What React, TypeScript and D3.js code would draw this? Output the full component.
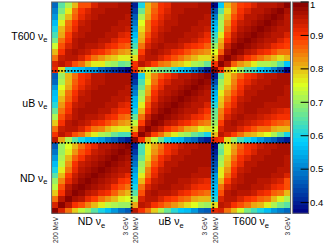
import React from 'react';
import * as d3 from 'd3';

// ---------- data ----------
const detectors = ['ND', 'uB', 'T600'];
const nBins = 12;

// correlation blocks, rows = row-detector energy bin (0 = 200 MeV ... 11 = 3 GeV), cols = column-detector bin
const ND_ND = [
  [1.00,0.93,0.85,0.79,0.73,0.70,0.65,0.60,0.57,0.53,0.49,0.46],
  [0.93,1.00,0.95,0.91,0.88,0.84,0.80,0.77,0.73,0.71,0.70,0.70],
  [0.85,0.95,1.00,0.97,0.95,0.92,0.89,0.86,0.83,0.80,0.77,0.75],
  [0.79,0.91,0.97,1.00,0.98,0.96,0.94,0.92,0.90,0.87,0.83,0.80],
  [0.73,0.88,0.95,0.98,1.00,0.98,0.97,0.96,0.94,0.91,0.88,0.86],
  [0.70,0.84,0.92,0.96,0.98,1.00,0.98,0.97,0.96,0.94,0.91,0.89],
  [0.65,0.80,0.89,0.94,0.97,0.98,1.00,0.98,0.97,0.96,0.94,0.92],
  [0.60,0.77,0.86,0.92,0.96,0.97,0.98,1.00,0.98,0.97,0.96,0.95],
  [0.57,0.73,0.83,0.90,0.94,0.96,0.97,0.98,1.00,0.98,0.97,0.96],
  [0.53,0.71,0.80,0.87,0.91,0.94,0.96,0.97,0.98,1.00,0.98,0.97],
  [0.49,0.70,0.77,0.83,0.88,0.91,0.94,0.96,0.97,0.98,1.00,0.98],
  [0.46,0.70,0.75,0.80,0.86,0.89,0.92,0.95,0.96,0.97,0.98,1.00],
];
const UB_UB = [
  [1.00,0.90,0.80,0.73,0.66,0.60,0.57,0.55,0.50,0.47,0.42,0.40],
  [0.90,1.00,0.95,0.89,0.85,0.80,0.76,0.72,0.70,0.66,0.64,0.60],
  [0.80,0.95,1.00,0.97,0.94,0.91,0.88,0.85,0.82,0.80,0.77,0.78],
  [0.73,0.89,0.97,1.00,0.98,0.96,0.94,0.92,0.90,0.88,0.85,0.84],
  [0.66,0.85,0.94,0.98,1.00,0.98,0.97,0.96,0.94,0.92,0.90,0.88],
  [0.60,0.80,0.91,0.96,0.98,1.00,0.98,0.97,0.96,0.95,0.93,0.91],
  [0.57,0.76,0.88,0.94,0.97,0.98,1.00,0.98,0.97,0.96,0.95,0.93],
  [0.55,0.72,0.85,0.92,0.96,0.97,0.98,1.00,0.98,0.97,0.96,0.95],
  [0.50,0.70,0.82,0.90,0.94,0.96,0.97,0.98,1.00,0.98,0.97,0.96],
  [0.47,0.66,0.80,0.88,0.92,0.95,0.96,0.97,0.98,1.00,0.98,0.97],
  [0.42,0.64,0.77,0.85,0.90,0.93,0.95,0.96,0.97,0.98,1.00,0.98],
  [0.40,0.60,0.78,0.84,0.88,0.91,0.93,0.95,0.96,0.97,0.98,1.00],
];
const T600_T600 = [
  [1.00,0.90,0.80,0.75,0.70,0.65,0.63,0.58,0.55,0.50,0.45,0.38],
  [0.90,1.00,0.95,0.87,0.83,0.80,0.76,0.72,0.71,0.70,0.65,0.58],
  [0.80,0.95,1.00,0.97,0.94,0.91,0.88,0.85,0.83,0.80,0.78,0.80],
  [0.75,0.87,0.97,1.00,0.98,0.96,0.94,0.92,0.90,0.88,0.86,0.86],
  [0.70,0.83,0.94,0.98,1.00,0.98,0.97,0.95,0.94,0.92,0.90,0.89],
  [0.65,0.80,0.91,0.96,0.98,1.00,0.98,0.97,0.96,0.95,0.93,0.91],
  [0.63,0.76,0.88,0.94,0.97,0.98,1.00,0.98,0.97,0.96,0.95,0.93],
  [0.58,0.72,0.85,0.92,0.95,0.97,0.98,1.00,0.98,0.97,0.96,0.95],
  [0.55,0.71,0.83,0.90,0.94,0.96,0.97,0.98,1.00,0.98,0.97,0.96],
  [0.50,0.70,0.80,0.88,0.92,0.95,0.96,0.97,0.98,1.00,0.98,0.96],
  [0.45,0.65,0.78,0.86,0.90,0.93,0.95,0.96,0.97,0.98,1.00,0.97],
  [0.38,0.58,0.80,0.86,0.89,0.91,0.93,0.95,0.96,0.96,0.97,1.00],
];
// off-diagonal: rows = first detector bins, cols = second detector bins
const UB_ND = [
  [0.95,0.82,0.72,0.65,0.60,0.57,0.55,0.52,0.49,0.46,0.42,0.40],
  [0.90,0.96,0.93,0.88,0.85,0.80,0.76,0.72,0.70,0.66,0.64,0.64],
  [0.85,0.94,0.96,0.95,0.93,0.89,0.86,0.84,0.81,0.78,0.76,0.76],
  [0.79,0.91,0.95,0.97,0.96,0.94,0.92,0.90,0.88,0.85,0.83,0.82],
  [0.72,0.88,0.93,0.96,0.97,0.96,0.95,0.94,0.92,0.90,0.87,0.86],
  [0.66,0.85,0.91,0.95,0.97,0.97,0.97,0.96,0.95,0.93,0.91,0.90],
  [0.61,0.83,0.89,0.94,0.96,0.97,0.97,0.97,0.96,0.95,0.93,0.92],
  [0.58,0.80,0.87,0.92,0.95,0.96,0.97,0.97,0.97,0.96,0.95,0.94],
  [0.56,0.78,0.85,0.90,0.94,0.95,0.97,0.97,0.97,0.97,0.96,0.95],
  [0.52,0.75,0.82,0.88,0.92,0.94,0.96,0.97,0.97,0.97,0.97,0.96],
  [0.48,0.72,0.80,0.87,0.90,0.93,0.95,0.96,0.97,0.97,0.97,0.97],
  [0.46,0.70,0.80,0.86,0.90,0.92,0.95,0.96,0.97,0.97,0.97,0.97],
];
const T600_ND = [
  [0.92,0.78,0.62,0.58,0.56,0.54,0.52,0.48,0.45,0.42,0.40,0.38],
  [0.93,0.96,0.93,0.88,0.85,0.81,0.77,0.76,0.72,0.70,0.66,0.68],
  [0.85,0.94,0.96,0.95,0.93,0.89,0.86,0.83,0.80,0.79,0.76,0.76],
  [0.80,0.91,0.95,0.97,0.96,0.94,0.92,0.90,0.88,0.85,0.83,0.82],
  [0.74,0.88,0.93,0.96,0.97,0.96,0.95,0.94,0.92,0.90,0.88,0.87],
  [0.68,0.85,0.91,0.95,0.97,0.97,0.97,0.96,0.95,0.93,0.91,0.90],
  [0.64,0.82,0.89,0.94,0.96,0.97,0.97,0.97,0.96,0.95,0.93,0.92],
  [0.60,0.80,0.87,0.92,0.95,0.96,0.97,0.97,0.97,0.96,0.95,0.94],
  [0.56,0.76,0.85,0.90,0.94,0.95,0.97,0.97,0.97,0.97,0.96,0.95],
  [0.53,0.72,0.81,0.87,0.92,0.94,0.96,0.97,0.97,0.97,0.97,0.96],
  [0.50,0.68,0.76,0.85,0.90,0.93,0.95,0.96,0.97,0.97,0.97,0.97],
  [0.47,0.65,0.72,0.80,0.88,0.88,0.93,0.96,0.96,0.96,0.97,0.97],
];
const T600_UB = [
  [0.92,0.80,0.74,0.70,0.68,0.66,0.62,0.58,0.55,0.50,0.45,0.40],
  [0.90,0.96,0.93,0.89,0.86,0.84,0.81,0.79,0.76,0.72,0.70,0.66],
  [0.78,0.93,0.96,0.95,0.93,0.90,0.88,0.86,0.83,0.80,0.78,0.78],
  [0.70,0.89,0.95,0.97,0.96,0.94,0.92,0.90,0.88,0.86,0.84,0.83],
  [0.64,0.85,0.93,0.96,0.97,0.96,0.95,0.94,0.92,0.91,0.89,0.87],
  [0.60,0.82,0.90,0.94,0.96,0.97,0.97,0.96,0.95,0.94,0.92,0.90],
  [0.56,0.80,0.88,0.93,0.95,0.97,0.97,0.97,0.96,0.95,0.94,0.92],
  [0.52,0.78,0.86,0.92,0.94,0.96,0.97,0.97,0.97,0.96,0.95,0.94],
  [0.49,0.75,0.85,0.90,0.93,0.95,0.96,0.97,0.97,0.97,0.96,0.95],
  [0.46,0.72,0.82,0.88,0.92,0.94,0.96,0.97,0.97,0.97,0.97,0.96],
  [0.42,0.66,0.80,0.87,0.90,0.93,0.95,0.96,0.97,0.97,0.97,0.97],
  [0.40,0.60,0.80,0.86,0.90,0.92,0.95,0.96,0.96,0.96,0.97,0.97],
];

const zRange = [0.368, 1.0];
const colorTicks = [0.4, 0.5, 0.6, 0.7, 0.8, 0.9, 1.0];
const colorTickLabels = ['0.4', '0.5', '0.6', '0.7', '0.8', '0.9', '1'];
const energyTickLabels = ['200 MeV', '3 GeV', '200 MeV', '3 GeV', '200 MeV', '3 GeV'];
const energyTickBins = [0.6, 11.2, 12.6, 23.0, 24.7, 35.5];
const dividerBinsX = [12.05, 24.35];
const dividerBinsY = [12.0, 24.25];
const yLabelBins = [6.0, 18.8, 30.2];
const xLabelBins = [6, 18, 30];
const paletteStops = [0, 0.34, 0.61, 0.84, 1];
const paletteColors = ['rgb(0,0,130)', 'rgb(0,207,255)', 'rgb(222,255,31)', 'rgb(255,51,0)', 'rgb(130,0,0)'];
const nContours = 50;

// ---------- helpers ----------
const diagBlocks = [ND_ND, UB_UB, T600_T600];
const offBlocks: Record<string, number[][]> = { '1-0': UB_ND, '2-0': T600_ND, '2-1': T600_UB };

function corr(r: number, c: number): number {
  const dr = Math.floor(r / nBins), dc = Math.floor(c / nBins);
  const i = r % nBins, j = c % nBins;
  if (dr === dc) return diagBlocks[dr][i][j];
  if (dr > dc) return offBlocks[`${dr}-${dc}`][i][j];
  return offBlocks[`${dc}-${dr}`][j][i];
}

const W = 334, H = 251;
const P = { l: 51.6, r: 290.6, t: 2, b: 213.3 };
const BAR = { l: 292.6, r: 308.6 };
const FONT = "'Liberation Sans', Arial, Helvetica, sans-serif";

export default function App() {
  const N = detectors.length * nBins;
  const x = d3.scaleLinear().domain([0, N]).range([P.l, P.r]);
  const y = d3.scaleLinear().domain([0, N]).range([P.b, P.t]);
  const z = d3.scaleLinear().domain(zRange).range([P.b, P.t]);
  const pal = d3.scaleLinear<string>().domain(paletteStops).range(paletteColors).interpolate(d3.interpolateRgb);
  const levelColor = (v: number) => {
    let k = Math.floor(((v - zRange[0]) / (zRange[1] - zRange[0])) * nContours);
    k = Math.max(0, Math.min(nContours - 1, k));
    return pal((k + 0.5) / nContours);
  };

  const cells: JSX.Element[] = [];
  for (let r = 0; r < N; r++) {
    for (let c = 0; c < N; c++) {
      const x0 = x(c), x1 = x(c + 1), y0 = y(r + 1), y1 = y(r);
      cells.push(
        <rect key={`${r}-${c}`} x={x0} y={y0} width={x1 - x0 + 0.4} height={y1 - y0 + 0.4} fill={levelColor(corr(r, c))} />
      );
    }
  }

  const barRects = d3.range(nContours).map((k) => {
    const v0 = zRange[0] + ((zRange[1] - zRange[0]) * k) / nContours;
    const v1 = zRange[0] + ((zRange[1] - zRange[0]) * (k + 1)) / nContours;
    return (
      <rect key={k} x={BAR.l} y={z(v1)} width={BAR.r - BAR.l} height={z(v0) - z(v1) + 0.4} fill={pal((k + 0.5) / nContours)} />
    );
  });

  return (
    <svg width={W} height={H} style={{ position: 'absolute', left: 0, top: 0, background: '#fff' }} fontFamily={FONT}>
      <rect x={0} y={0} width={W} height={H} fill="#fff" />
      <g shapeRendering="crispEdges">{cells}</g>
      {dividerBinsX.map((b, i) => (
        <line key={`dx${i}`} x1={x(b)} x2={x(b)} y1={P.t} y2={P.b} stroke="#000" strokeWidth={1.8} strokeDasharray="1.6 1.6" />
      ))}
      {dividerBinsY.map((b, i) => (
        <line key={`dy${i}`} x1={P.l} x2={P.r} y1={y(b)} y2={y(b)} stroke="#000" strokeWidth={1.8} strokeDasharray="1.6 1.6" />
      ))}
      <rect x={P.l} y={P.t} width={P.r - P.l} height={P.b - P.t} fill="none" stroke="#666" strokeWidth={1} />

      {/* y labels */}
      {detectors.map((d, i) => (
        <text key={`yl${i}`} x={47.5} y={y(yLabelBins[i]) + 3.8} textAnchor="end" fontSize={10.5} fill="#000">
          {d} ν<tspan fontSize={7.5} dy={2.5}>e</tspan>
        </text>
      ))}
      {/* x labels */}
      {detectors.map((d, i) => (
        <text key={`xl${i}`} x={x(xLabelBins[i])} y={225} textAnchor="middle" fontSize={10.5} fill="#000">
          {d} ν<tspan fontSize={7.5} dy={2.5}>e</tspan>
        </text>
      ))}
      {/* energy tick labels */}
      {energyTickBins.map((b, i) => (
        <text key={`et${i}`} transform={`translate(${x(b) + 2.3},217) rotate(-90)`} textAnchor="end" fontSize={6.5} fill="#222">
          {energyTickLabels[i]}
        </text>
      ))}

      {/* colour bar */}
      <g shapeRendering="crispEdges">{barRects}</g>
      <rect x={BAR.l} y={P.t} width={BAR.r - BAR.l} height={P.b - P.t} fill="none" stroke="#777" strokeWidth={1} />
      {colorTicks.map((v, i) => (
        <g key={`ct${i}`}>
          <line x1={BAR.r - 8} x2={BAR.r} y1={z(v)} y2={z(v)} stroke="#000" strokeWidth={1} />
          <text x={310} y={Math.max(z(v), 4.2)} dy="0.35em" fontSize={9.5} fill="#000">{colorTickLabels[i]}</text>
        </g>
      ))}
    </svg>
  );
}
